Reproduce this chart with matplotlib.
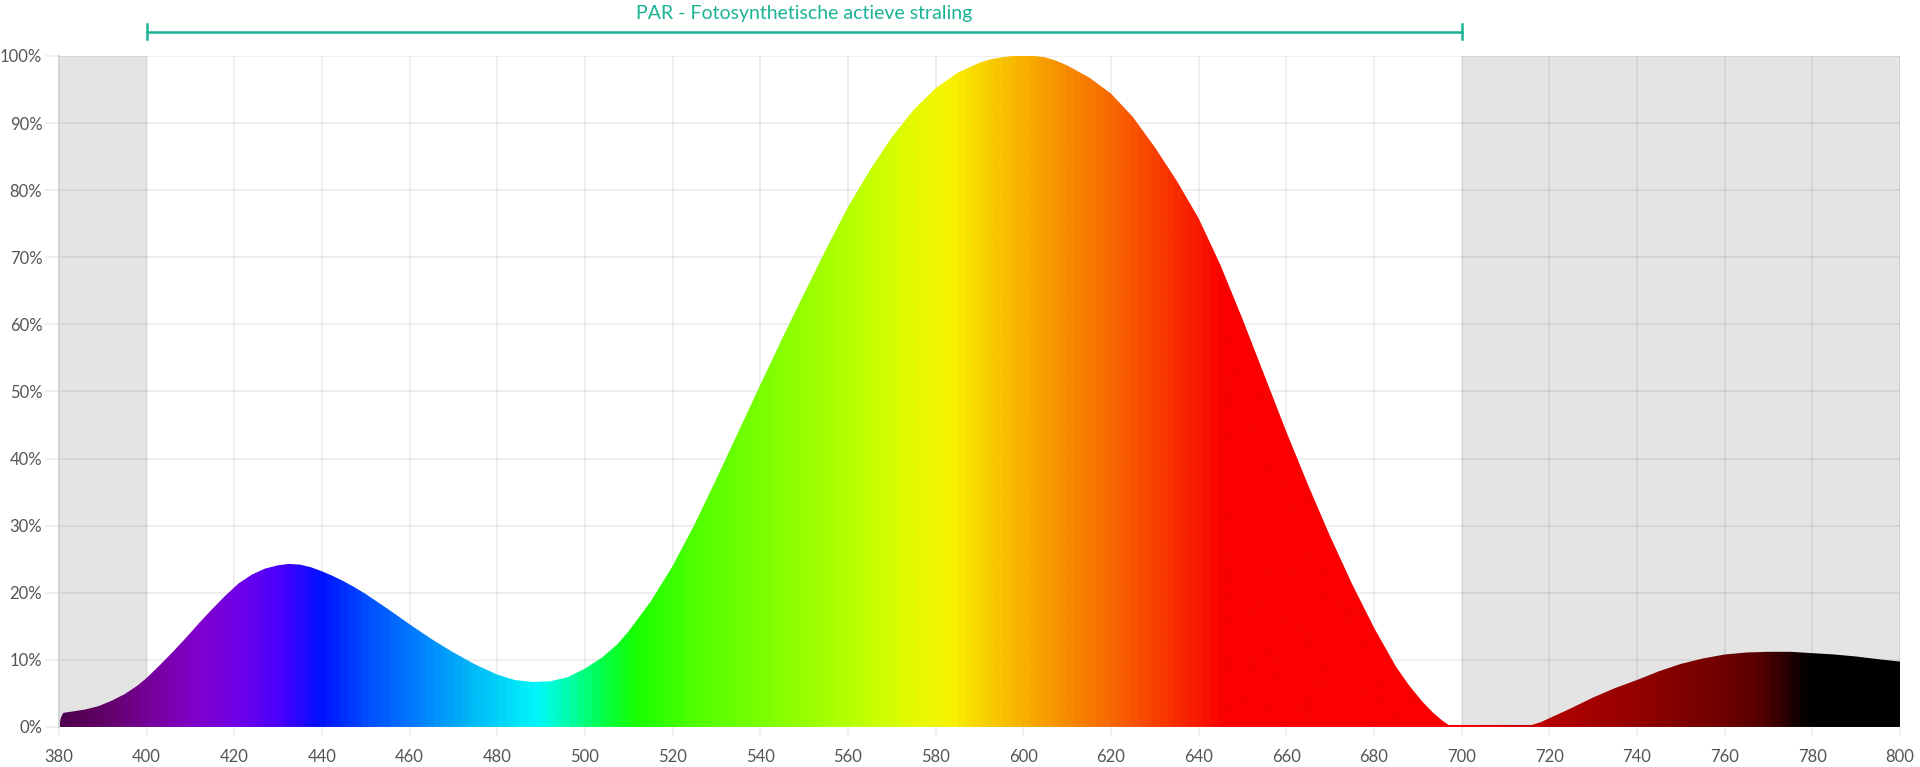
import numpy as np
import matplotlib
matplotlib.use("Agg")
import matplotlib.pyplot as plt
from matplotlib.colors import LinearSegmentedColormap
from matplotlib.patches import Polygon

# spectrum (nm, % of peak)
wavelength = [380, 380.5, 381, 383, 386, 389, 392, 395, 398, 400, 403, 406, 409, 412, 415, 418,
              421, 424, 427, 430, 432.5, 435, 437.5, 440, 442.5, 445, 447.5, 450, 455, 460, 465,
              470, 475, 480, 484, 488, 492, 496, 500, 504, 507.5, 510, 515, 520, 525, 530, 535,
              540, 545, 550, 555, 560, 565, 570, 575, 580, 585, 590, 592.5, 595, 597.5, 600,
              602.5, 605, 607.5, 610, 615, 620, 625, 630, 635, 640, 645, 650, 655, 660, 665,
              670, 675, 680, 685, 688, 691, 693.5, 695.5, 697, 700, 705, 710, 716, 718, 720,
              725, 730, 735, 740, 745, 750, 755, 760, 765, 770, 775, 780, 785, 790, 795, 800]
intensity = [0.2, 1.5, 2.1, 2.3, 2.6, 3.1, 3.9, 4.9, 6.2, 7.3, 9.2, 11.2, 13.3, 15.5, 17.6, 19.6,
             21.4, 22.7, 23.6, 24.1, 24.3, 24.2, 23.8, 23.2, 22.5, 21.7, 20.8, 19.8, 17.6, 15.3, 13.1,
             11.1, 9.3, 7.8, 7.0, 6.7, 6.8, 7.4, 8.7, 10.4, 12.4, 14.3, 18.7, 24.0, 30.2, 37.0, 44.0,
             51.0, 57.9, 64.6, 71.2, 77.5, 83.0, 87.9, 92.0, 95.2, 97.5, 99.0, 99.5, 99.8, 100.0, 100.0,
             100.0, 99.8, 99.3, 98.6, 96.8, 94.4, 90.9, 86.4, 81.4, 75.8, 68.8, 60.8, 52.4, 44.0, 36.0,
             28.4, 21.3, 14.8, 9.0, 6.2, 3.8, 2.1, 1.0, 0.3, 0.3, 0.3, 0.3, 0.3, 0.7, 1.3,
             2.8, 4.4, 5.8, 7.0, 8.3, 9.4, 10.2, 10.8, 11.1, 11.2, 11.2, 11.0, 10.8, 10.5, 10.1, 9.75]

x_ticks = list(range(380, 801, 20))
y_ticks = list(range(0, 101, 10))
y_tick_labels = [f"{v}%" for v in y_ticks]
par_range = (400, 700)
par_label = "PAR - Fotosynthetische actieve straling"
shaded = [(380, 400), (700, 800)]

# colour of the fill along the wavelength axis
color_stops = [(380, "#4e004e"), (390, "#620068"), (400, "#76009c"), (410, "#8000c8"),
               (420, "#7000e8"), (430, "#4800ff"), (439, "#0010ff"), (450, "#0050ff"),
               (460, "#0078ff"), (470, "#00a8f8"), (480, "#00d4f8"), (489, "#00f8f8"),
               (496, "#00ffa8"), (503, "#00ff50"), (511, "#18ff00"), (525, "#50ff00"),
               (545, "#88ff00"), (565, "#c4ff00"), (576, "#e8f800"), (583, "#f8f400"),
               (590, "#f8d400"), (600, "#f8b000"), (610, "#f88a00"), (620, "#f86800"),
               (630, "#f84000"), (640, "#f81800"), (646, "#fa0000"), (700, "#fa0000"),
               (716, "#cc0000"), (722, "#b00000"), (740, "#940000"), (760, "#700000"),
               (768, "#580000"), (774, "#300000"), (778, "#0c0000"), (781, "#000000"),
               (800, "#000000")]

teal = "#1ab394"
tick_color = "#555555"

plt.rcParams["font.family"] = ["Lato", "DejaVu Sans"]

fig = plt.figure(figsize=(19.2, 7.67), dpi=100)
ax = fig.add_axes([0.0307, 0.0522, 0.9589, 0.8748])

for lo, hi in shaded:
    ax.axvspan(lo, hi, color="#e4e4e4", zorder=0.2, lw=0)

# gradient clipped to the spectrum outline
lo_nm, hi_nm = wavelength[0], wavelength[-1]
cmap = LinearSegmentedColormap.from_list(
    "spec", [((w - lo_nm) / (hi_nm - lo_nm), c) for w, c in color_stops])
grad = np.linspace(0, 1, 1200).reshape(1, -1)
im = ax.imshow(grad, cmap=cmap, aspect="auto", extent=[lo_nm, hi_nm, 0, 100],
               origin="lower", zorder=2, interpolation="bilinear")
verts = np.column_stack([[wavelength[0]] + wavelength + [wavelength[-1]],
                         [0] + intensity + [0]])
outline = Polygon(verts, closed=True, facecolor="none", edgecolor="none",
                  transform=ax.transData)
ax.add_patch(outline)
im.set_clip_path(outline)

ax.set_xlim(380, 800)
ax.set_ylim(0, 100)
ax.set_xticks(x_ticks)
ax.set_yticks(y_ticks)
ax.set_yticklabels(y_tick_labels)
ax.set_axisbelow(True)
ax.grid(True, color="black", alpha=0.075, lw=1.2)
ax.tick_params(axis="both", colors="#ececec", labelcolor=tick_color,
               labelsize=12, width=1.2)
ax.tick_params(axis="y", length=10, pad=2)
ax.tick_params(axis="x", length=6, pad=10)
for side in ["top", "right", "bottom"]:
    ax.spines[side].set_visible(False)
ax.spines["left"].set_color("#d4d4d4")
ax.spines["left"].set_linewidth(1.5)

# PAR bracket above the plot
ax.plot(par_range, [103.6, 103.6], color=teal, lw=1.8, clip_on=False)
for xe in par_range:
    ax.plot([xe, xe], [102.5, 104.7], color=teal, lw=1.8, clip_on=False)
ax.text(sum(par_range) / 2, 106.4, par_label, color=teal, fontsize=14,
        ha="center", va="center", clip_on=False)

fig.savefig("out.png", dpi=100, facecolor="white")
